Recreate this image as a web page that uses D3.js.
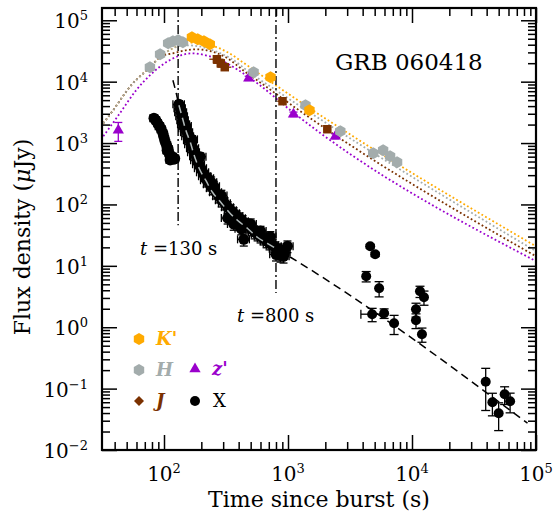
<!DOCTYPE html>
<meta charset="utf-8">
<title>GRB 060418</title>
<style>
  body { margin: 0; background: #fff; }
  text { font-family: "DejaVu Serif", serif; fill: #000; }
</style>
<body>
<script src="https://cdn.jsdelivr.net/npm/d3@7"></script>
<script>

// ---- optical / NIR photometry (time s, flux uJy)
var kT = [168, 187, 210, 234, 723, 1489];
var kF = [52800, 49100, 45500, 40600, 11800, 3420];

var hT = [77, 93, 108, 118, 130, 142, 528, 1383, 2642, 4865, 5850, 6656, 7580];
var hF = [17200, 27900, 42200, 45500, 47200, 43800, 14200, 4130, 1557, 682, 764, 609, 486];

var jT = [267, 287, 309, 903, 2075];
var jF = [23200, 19900, 17200, 4800, 1680];
var jTE = [35, 38, 40, 85, 150];

var zT = [42.8, 482, 1107, 2410];
var zF = [1615, 11350, 2944, 1291];
var zE = [550, 900, 250, 120];

// ---- X-ray (time s, flux uJy, flux error, time error)
var xaT = [83, 86, 89, 92, 95, 98, 100, 102, 105, 108, 106, 110, 113, 116, 119, 122, 112, 117];
var xaF = [2540, 2350, 2100, 1880, 1680, 1450, 1240, 1070, 920, 800, 760, 680, 610, 565, 545, 560, 530, 600];
var xaE = [300, 280, 250, 220, 200, 170, 150, 130, 110, 95, 90, 80, 70, 65, 65, 65, 60, 70];
var xaTE = [6, 6, 6, 7, 7, 7, 7, 7, 8, 8, 8, 8, 8, 8, 9, 9, 8, 8];

var xbT = [132, 134.5, 137, 139.5, 142, 144.7, 147.5, 153, 156, 161.8, 164.8, 171, 174, 181, 184, 191, 198, 206, 213, 221,
           234, 247, 262, 277, 292, 309, 327, 345, 365, 386, 408, 431, 456, 482, 509, 538, 569, 601, 636, 672,
           710, 751, 793, 839, 887, 937,
           226, 252, 326, 365, 440, 420, 600, 720, 800, 870, 920, 990, 150, 168, 196, 240, 290, 500];
var xbF = [4285, 3690, 3175, 2730, 2350, 2020, 1740, 1500, 1290, 1110, 956, 823, 708, 609, 525, 452, 389, 334, 288, 248,
           213, 184, 158, 136, 117, 104.5, 90, 80.4, 71.9, 64.2, 59.6, 53.3, 47.6, 44.2, 39.5, 35.3, 32.7, 30.3, 28.1, 25.2,
           23.3, 21.6, 20.1, 18.6, 17.3, 16.6,
           267, 198, 60, 48, 27, 40, 37, 30, 15.4, 14.8, 14.3, 20.9, 1900, 1150, 600, 230, 140, 48];
var xbE = [600, 520, 450, 390, 330, 290, 250, 215, 185, 160, 140, 120, 100, 90, 78, 68, 58, 50, 43, 55,
           47, 40, 35, 30, 26, 23, 20, 18, 16, 14, 13, 12, 10.5, 9.7, 8.7, 7.8, 7.2, 6.7, 6.2, 5.5,
           5.1, 4.8, 4.4, 4.1, 3.8, 3.7,
           55, 40, 12, 10, 6, 8, 7, 6, 3.4, 3.3, 3.2, 4.5, 280, 170, 90, 50, 30, 10];
var xbTE = [14, 14, 15, 15, 15, 16, 16, 17, 17, 18, 18, 19, 19, 20, 20, 21, 22, 23, 23, 24,
            26, 27, 29, 30, 32, 34, 36, 38, 40, 42, 45, 47, 50, 53, 56, 59, 63, 66, 70, 74,
            78, 83, 87, 92, 98, 103,
            25, 28, 36, 40, 48, 46, 66, 79, 88, 96, 101, 109, 16, 18, 22, 26, 32, 55];

var xcT = [4600, 5044, 4271, 5430, 4771, 5960, 7170, 11600, 12490, 10770, 10770, 12030, 39300, 44500, 49980, 55850, 61840];
var xcF = [20.9, 15.4, 6.77, 4.32, 1.63, 1.69, 1.16, 3.85, 3.08, 1.96, 1.30, 0.769, 0.129, 0.060, 0.0397, 0.0811, 0.0623];
var xcE = [1.5, 1.2, 1.3, 1.2, 0.4, 0.3, 0.4, 0.8, 0.8, 0.5, 0.35, 0.2, 0.085, 0.024, 0.019, 0.026, 0.022];
var xcTE = [0, 0, 0, 0, 900, 0, 0, 0, 0, 0, 0, 0, 0, 0, 0, 0, 0];

// ---- model curves
var mKT = [32.4, 38.9, 54.3, 77.2, 94.6, 118, 150, 188, 239, 315, 456, 660, 1047, 1e5];
var mKF = [2100, 3420, 8735, 17160, 25930, 35000, 42200, 43800, 39150, 31270, 19200, 11360, 6000, 20.8];
var mHT = [32.4, 38.9, 54.3, 77.2, 94.6, 118, 150, 191, 247, 345, 500, 870, 1e5];
var mHF = [2100, 3420, 8735, 17160, 25930, 35000, 39100, 37700, 32500, 24000, 13700, 6470, 17.3];
var mJT = [32.4, 38.9, 54.3, 77.2, 94.6, 118, 150, 181, 239, 315, 456, 660, 1047, 1e5];
var mJF = [2100, 3420, 8735, 17160, 25930, 29000, 32460, 33700, 31270, 24970, 14230, 8414, 4285, 14.3];
var mZT = [32.4, 43.5, 59.6, 78.6, 104, 137, 171, 217, 287, 400, 580, 1047, 1e5];
var mZF = [1290, 2945, 7244, 13200, 20700, 26900, 29000, 26900, 22300, 15330, 9070, 3420, 11.9];

var fitT = [118, 125, 132, 141, 150, 163, 175, 192, 217, 246, 287, 335, 391, 470, 566, 681, 819, 1047, 85400];
var fitF = [10540, 6720, 4130, 2535, 1616, 1031, 633, 389, 248, 158, 108.6, 74.6, 55.3, 40.9, 29.2, 23.3, 18.6, 13.8, 0.0273];

var tMarks = [130, 800];
var tMarkLow = [46, 3.6];
var tMarkText = ['130', '800'];

var xExp = [2, 3, 4, 5];
var yExp = [-2, -1, 0, 1, 2, 3, 4, 5];

var cK = '#ffaa00', cH = '#a3acac', cJ = '#7b3100', cZ = '#9a00cc';

var svg = d3.select('body').append('svg').attr('width', 556).attr('height', 517);

var x = d3.scaleLog().domain([Math.pow(10, 1.5), 1e5]).range([102, 536]);
var y = d3.scaleLog().domain([1e-2, Math.pow(10, 5.2)]).range([450, 8]);

svg.append('clipPath').attr('id', 'clip').append('rect')
  .attr('x', 102).attr('y', 8).attr('width', 434).attr('height', 442);
var plot = svg.append('g').attr('clip-path', 'url(#clip)');

var zip = function(a, b) { return a.map(function(v, i) { return [v, b[i]]; }); };
var line = d3.line().x(function(d) { return x(d[0]); }).y(function(d) { return y(d[1]); }).curve(d3.curveMonotoneX);

// model curves (dotted)
[[mKT, mKF, cK], [mJT, mJF, cJ], [mHT, mHF, cH], [mZT, mZF, cZ]].forEach(function(m) {
  plot.append('path').attr('d', line(zip(m[0], m[1])))
    .attr('fill', 'none').attr('stroke', m[2]).attr('stroke-width', 1.8)
    .attr('stroke-dasharray', '1.8,2.4');
});

// vertical dash-dot markers
tMarks.forEach(function(t, i) {
  plot.append('line').attr('x1', x(t)).attr('x2', x(t))
    .attr('y1', 8).attr('y2', y(tMarkLow[i]))
    .attr('stroke', '#000').attr('stroke-width', 1.4)
    .attr('stroke-dasharray', '9,3,2,3');
});

// X-ray fit (black, dashed)
var fit = zip(fitT, fitF);
plot.append('path').attr('d', line(fit))
  .attr('fill', 'none').attr('stroke', '#000').attr('stroke-width', 1.5)
  .attr('stroke-dasharray', '8,5');

function errY(g, t, f, e, col, cap) {
  g.append('line').attr('x1', x(t)).attr('x2', x(t))
    .attr('y1', y(f + e)).attr('y2', y(Math.max(f - e, 1e-3)))
    .attr('stroke', col).attr('stroke-width', 1.3);
  [f + e, Math.max(f - e, 1e-3)].forEach(function(v) {
    g.append('line').attr('x1', x(t) - cap).attr('x2', x(t) + cap)
      .attr('y1', y(v)).attr('y2', y(v)).attr('stroke', col).attr('stroke-width', 1.3);
  });
}
function errX(g, t, f, e, col, cap) {
  g.append('line').attr('x1', x(t - e)).attr('x2', x(t + e))
    .attr('y1', y(f)).attr('y2', y(f)).attr('stroke', col).attr('stroke-width', 1.3);
  [t - e, t + e].forEach(function(v) {
    g.append('line').attr('x1', x(v)).attr('x2', x(v))
      .attr('y1', y(f) - cap).attr('y2', y(f) + cap).attr('stroke', col).attr('stroke-width', 1.3);
  });
}

// X-ray points
var gx = plot.append('g');
function xray(T, F, E, TE, cap, r) {
  T.forEach(function(t, i) {
    if (E[i] > 0) errY(gx, t, F[i], E[i], '#000', cap);
    if (TE[i] > 0) errX(gx, t, F[i], TE[i], '#000', cap);
  });
  T.forEach(function(t, i) {
    gx.append('circle').attr('cx', x(t)).attr('cy', y(F[i])).attr('r', r).attr('fill', '#000');
  });
}
xray(xaT, xaF, xaE, xaTE, 4, 5.5);
xray(xbT, xbF, xbE, xbTE, 4, 5.5);
xray(xcT, xcF, xcE, xcTE, 4.5, 5);

// light dashed overlay on the dense part
plot.append('path').attr('d', line(fit.filter(function(d) { return d[0] >= 130 && d[0] <= 880; })))
  .attr('fill', 'none').attr('stroke', '#b0b8b8').attr('stroke-width', 1.5)
  .attr('stroke-dasharray', '8,5');

function hexPath(r) {
  var p = [];
  for (var i = 0; i < 6; i++) {
    var a = Math.PI / 3 * i + Math.PI / 6;
    p.push([(r * Math.cos(a)).toFixed(2), (r * Math.sin(a)).toFixed(2)]);
  }
  return 'M' + p.join('L') + 'Z';
}
var sqr = d3.symbol().type(d3.symbolSquare).size(72)();
var tri = d3.symbol().type(d3.symbolTriangle).size(55)();

var go = plot.append('g');
// J
jT.forEach(function(t, i) { errX(go, t, jF[i], jTE[i], cJ, 0); });
jT.forEach(function(t, i) {
  go.append('path').attr('d', sqr).attr('fill', cJ)
    .attr('transform', 'translate(' + x(t) + ',' + y(jF[i]) + ')');
});
// z'
zT.forEach(function(t, i) { errY(go, t, zF[i], zE[i], cZ, 4); });
zT.forEach(function(t, i) {
  go.append('path').attr('d', tri).attr('fill', cZ)
    .attr('transform', 'translate(' + x(t) + ',' + y(zF[i]) + ')');
});
// H and K'
[[hT, hF, cH], [kT, kF, cK]].forEach(function(s) {
  s[0].forEach(function(t, i) {
    go.append('path').attr('d', hexPath(6)).attr('fill', s[2])
      .attr('transform', 'translate(' + x(t) + ',' + y(s[1][i]) + ')');
  });
});

// ---- axes
var xMaj = xExp.map(function(e) { return Math.pow(10, e); });
var yMaj = yExp.map(function(e) { return Math.pow(10, e); });
var isDec = function(v) { return Math.abs(Math.log10(v) - Math.round(Math.log10(v))) < 1e-6; };
var xMin = x.ticks().filter(function(v) { return !isDec(v); });
var yMin = y.ticks().filter(function(v) { return !isDec(v); });

function ax(a, tr, vals, len) {
  var g = svg.append('g').attr('transform', tr)
    .call(a.tickValues(vals).tickSize(-len).tickFormat(''));
  g.select('.domain').remove();
  g.selectAll('line').attr('stroke', '#000').attr('stroke-width', 1.5);
}
ax(d3.axisBottom(x), 'translate(0,450)', xMaj, 15);
ax(d3.axisBottom(x), 'translate(0,450)', xMin, 8);
ax(d3.axisTop(x), 'translate(0,8)', xMaj, 15);
ax(d3.axisTop(x), 'translate(0,8)', xMin, 8);
ax(d3.axisLeft(y), 'translate(102,0)', yMaj, 15);
ax(d3.axisLeft(y), 'translate(102,0)', yMin, 8);
ax(d3.axisRight(y), 'translate(536,0)', yMaj, 15);
ax(d3.axisRight(y), 'translate(536,0)', yMin, 8);

svg.append('rect').attr('x', 102).attr('y', 8).attr('width', 434).attr('height', 442)
  .attr('fill', 'none').attr('stroke', '#000').attr('stroke-width', 2.2);

function powLabel(px, py, e, anchor) {
  var t = svg.append('text').attr('x', px).attr('y', py).attr('text-anchor', anchor)
    .attr('font-size', 20);
  t.append('tspan').text('10');
  t.append('tspan').attr('dy', -8).attr('font-size', 13).text(e < 0 ? '\u2212' + (-e) : String(e));
}
xExp.forEach(function(e) { powLabel(x(Math.pow(10, e)), 481, e, 'middle'); });
yExp.forEach(function(e) { powLabel(88, y(Math.pow(10, e)) + 8, e, 'end'); });

svg.append('text').attr('x', 319).attr('y', 507).attr('text-anchor', 'middle')
  .attr('font-size', 22).text('Time since burst (s)');
var yl = svg.append('text').attr('transform', 'translate(30,237) rotate(-90)')
  .attr('text-anchor', 'middle').attr('font-size', 22);
yl.append('tspan').text('Flux density (');
yl.append('tspan').attr('font-style', 'italic').text('\u03bc');
yl.append('tspan').text('Jy)');

svg.append('text').attr('x', 335).attr('y', 70).attr('font-size', 23).text('GRB 060418');

[[140, 255], [237, 322]].forEach(function(p, i) {
  var t = svg.append('text').attr('x', p[0]).attr('y', p[1]).attr('font-size', 18).attr('xml:space', 'preserve');
  t.append('tspan').attr('font-style', 'italic').text('t');
  t.append('tspan').text(' =' + tMarkText[i] + ' s');
});

// ---- legend
var leg = svg.append('g');
function legText(px, py, s, col, style, weight) {
  leg.append('text').attr('x', px).attr('y', py).attr('font-size', 18)
    .attr('font-style', style).attr('font-weight', weight).style('fill', col).text(s);
}
leg.append('path').attr('d', hexPath(6)).attr('fill', cK).attr('transform', 'translate(139,339)');
legText(156, 345, "K'", cK, 'italic', 'bold');
leg.append('path').attr('d', hexPath(6)).attr('fill', cH).attr('transform', 'translate(139,370)');
legText(156, 376, 'H', cH, 'italic', 'bold');
leg.append('path').attr('d', d3.symbol().type(d3.symbolSquare).size(50)()).attr('fill', cJ)
  .attr('transform', 'translate(139,401) rotate(45)');
legText(156, 407, 'J', cJ, 'italic', 'bold');
leg.append('path').attr('d', tri).attr('fill', cZ).attr('transform', 'translate(195,369)');
legText(212, 375, "z'", cZ, 'italic', 'bold');
leg.append('circle').attr('cx', 195).attr('cy', 401).attr('r', 5).attr('fill', '#000');
legText(213, 407, 'X', '#000', 'normal', 'normal');

</script>
</body>
